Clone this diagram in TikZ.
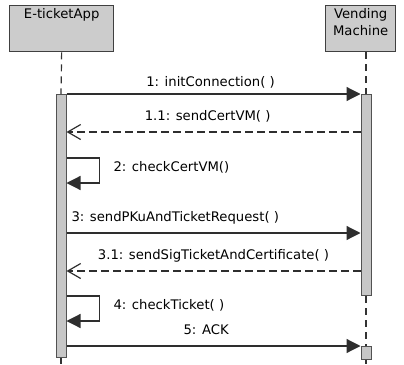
\documentclass[tikz,border=0pt]{standalone}
\usepackage{fontspec}
\setmainfont{DejaVu Sans}
\usetikzlibrary{arrows.meta}

\begin{document}
\begin{tikzpicture}[x=1pt,y=-1pt,
    every node/.style={font=\fontsize{13.2}{17}\selectfont, text=black},
    actor/.style={draw=black!75, fill=black!20, line width=1.3pt, inner sep=0pt, anchor=north west},
    bar/.style={draw=black!68, fill=black!22, line width=1pt, minimum width=10pt, inner sep=0pt, anchor=north},
    lifeline/.style={draw=black!80, line width=1.2pt, dash pattern=on 7pt off 5pt},
    call/.style={draw=black!82, line width=1.2pt, -{Triangle[length=14pt,width=14pt]}},
    reply/.style={draw=black!82, line width=1.2pt, dash pattern=on 8pt off 4pt, -{Straight Barb[length=13pt,width=15pt]}},
    msg/.style={anchor=base, yshift=11.5pt}]

    \useasboundingbox (0,0) rectangle (404,364);

    %objets
    \node[actor, minimum width=104pt, minimum height=46pt] (app) at (9,5) {};
    \node[actor, minimum width=70pt, minimum height=46pt] (vm) at (325,5) {};
    \node[anchor=north] (appName) at (app.north) {E-ticketApp};
    \node[anchor=north, align=center] (vmName) at (vm.north) {Vending\\Machine};

    %activations
    \node[bar, minimum height=263pt] (appBar) at (61,94) {};
    \node[bar, minimum height=201pt] (vmBar1) at (366,94) {};
    \node[bar, minimum height=13pt] (vmBar2) at (366,346) {};

    %lignes de vie
    \coordinate (appEnd) at (61,364);
    \coordinate (vmEnd) at (366,364);
    \draw[lifeline] (app.south) -- (appBar.north);
    \draw[lifeline] (appBar.south) -- (appEnd);
    \draw[lifeline] (vmBar1.north |- vm.south) -- (vmBar1.north);
    \draw[lifeline] (vmBar1.south) -- (vmBar2.north);
    \draw[lifeline] (vmBar2.south) -- (vmEnd);

    %messages
    \draw[call] (appBar.east |- 0,94) -- (vmBar1.west |- 0,94)
        node[msg, pos=.49, yshift=-3.5pt] (initConn) {1: initConnection( )};
    \draw[reply] (vmBar1.west |- 0,132) -- (appBar.east |- 0,132)
        node[msg, pos=.52] (sendCert) {1.1: sendCertVM( )};
    \draw[call] (appBar.east |- 0,233) -- (vmBar1.west |- 0,233)
        node[msg, pos=.37] (sendReq) {3: sendPKuAndTicketRequest( )};
    \draw[reply] (vmBar1.west |- 0,271) -- (appBar.east |- 0,271)
        node[msg, pos=.50] (sendSig) {3.1: sendSigTicketAndCertificate( )};
    \draw[call] (appBar.east |- 0,346) -- (vmBar2.west |- 0,346)
        node[msg, pos=.475] (ack) {5: ACK};

    %appels internes
    \foreach \yy/\txt/\nm in {158/{2: checkCertVM()}/checkCert, 296/{4: checkTicket( )}/checkTicket}{
        \draw[call] (appBar.east |- 0,\yy) -- ++(33,0) -- ++(0,25) -- (appBar.east |- 0,\yy+25);
        \node[anchor=base west] (\nm) at (110,\yy+13) {\txt};
    }

\end{tikzpicture}
\end{document}
